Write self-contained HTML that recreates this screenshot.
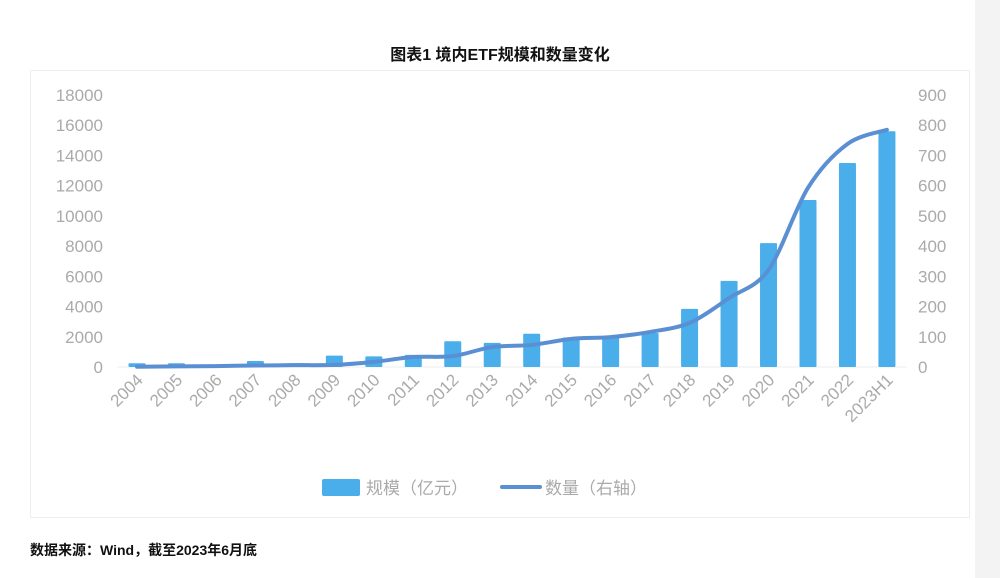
<!DOCTYPE html>
<html><head><meta charset="utf-8">
<style>
body{margin:0;width:1000px;height:578px;background:#fff;overflow:hidden;font-family:"Liberation Sans","Noto Sans CJK SC",sans-serif;position:relative}
#band{position:absolute;left:975px;top:0;width:25px;height:578px;background:#f3f3f3}
#card{position:absolute;left:30px;top:70px;width:940px;height:448px;border:1px solid #eeeeee;box-sizing:border-box}
#title{position:absolute;top:41px;left:0;width:1000px;text-align:center;font-size:16px;font-weight:bold;color:#111}
#src{position:absolute;top:540px;left:30px;font-size:14px;font-weight:bold;color:#111}
svg{position:absolute;left:0;top:0}
</style></head><body>
<div id="band"></div>
<div id="card"></div>
<div id="title">图表1 境内ETF规模和数量变化</div>
<div id="src">数据来源：Wind，截至2023年6月底</div>
<svg id="chart" width="1000" height="578"></svg>
<script>
const categories=["2004","2005","2006","2007","2008","2009","2010","2011","2012","2013","2014","2015","2016","2017","2018","2019","2020","2021","2022","2023H1"];
const scaleValues=[250,250,150,400,250,750,700,800,1700,1600,2200,1950,2000,2250,3850,5700,8200,11050,13500,15600];
const countValues=[1,2,3,5,6,7,17,33,36,66,73,93,99,116,146,228,321,593,738,785];
const leftTicks=[0,2000,4000,6000,8000,10000,12000,14000,16000,18000];
const rightTicks=[0,100,200,300,400,500,600,700,800,900];
const NS="http://www.w3.org/2000/svg";
const svg=document.getElementById('chart');
const y0=367,yTop=95,x0=137,step=39.47;
const yL=v=>y0-(v/18000)*(y0-yTop);
const yR=v=>y0-(v/900)*(y0-yTop);
const xC=i=>x0+i*step;
function mk(t,a){const e=document.createElementNS(NS,t);for(const k in a)e.setAttribute(k,a[k]);svg.appendChild(e);return e;}
leftTicks.forEach(v=>{const t=mk('text',{x:103,y:yL(v)+6,'text-anchor':'end','font-size':17,fill:'#aaa'});t.textContent=v;

});
rightTicks.forEach(v=>{const t=mk('text',{x:918,y:yR(v)+6,'font-size':17,fill:'#aaa'});t.textContent=v;

});
const ax=mk('line',{x1:117,x2:907,y1:y0,y2:y0,stroke:'#eee'});


scaleValues.forEach((v,i)=>{const r=mk('rect',{x:xC(i)-8.5,y:yL(v),width:17,height:y0-yL(v),fill:'#49aeea',rx:1});

});
categories.forEach((c,i)=>{const t=mk('text',{x:xC(i)+7,y:y0+14,'text-anchor':'end','font-size':17,fill:'#aaa',transform:`rotate(-45 ${xC(i)+7} ${y0+14})`});t.textContent=c;

});
const pts=countValues.map((v,i)=>[xC(i),yR(v)]);
let d=`M${pts[0][0]},${pts[0][1]}`;
for(let i=0;i<pts.length-1;i++){const p0=pts[Math.max(0,i-1)],p1=pts[i],p2=pts[i+1],p3=pts[Math.min(pts.length-1,i+2)];const k=0.16;
d+=` C${p1[0]+(p2[0]-p0[0])*k},${p1[1]+(p2[1]-p0[1])*k} ${p2[0]-(p3[0]-p1[0])*k},${p2[1]-(p3[1]-p1[1])*k} ${p2[0]},${p2[1]}`;}
const ln=mk('path',{d:d,fill:'none',stroke:'#5b8fd3','stroke-width':4,'stroke-linecap':'round','stroke-linejoin':'round'});


const lr=mk('rect',{x:322,y:479,width:38,height:17,fill:'#49aeea',rx:2});


const lt1=mk('text',{x:366,y:494,'font-size':17,fill:'#aaa'});lt1.textContent='规模（亿元）';


const ll=mk('line',{x1:502,x2:540,y1:487,y2:487,stroke:'#5b8fd3','stroke-width':4,'stroke-linecap':'round'});


const lt2=mk('text',{x:545,y:494,'font-size':17,fill:'#aaa'});lt2.textContent='数量（右轴）';


</script>
</body></html>
